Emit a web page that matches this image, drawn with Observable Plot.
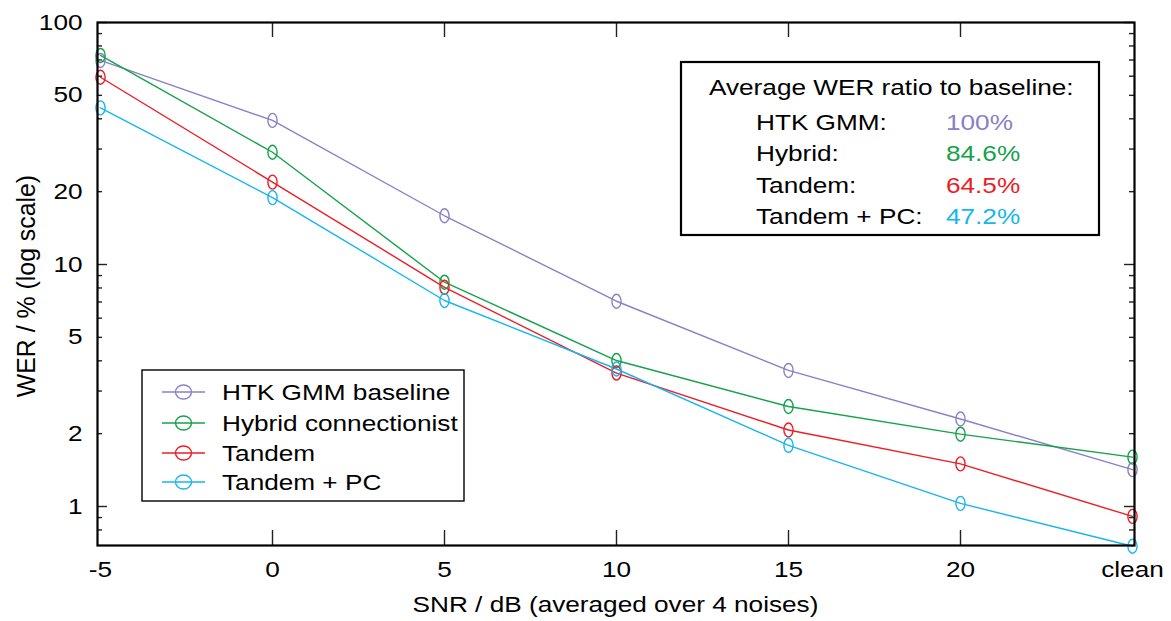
<!DOCTYPE html>
<html>
<head>
<meta charset="utf-8">
<script src="https://cdn.jsdelivr.net/npm/d3@7"></script>
<script src="https://cdn.jsdelivr.net/npm/@observablehq/plot@0.6"></script>
<style>
  html, body { margin: 0; padding: 0; background: white; overflow: hidden; }
</style>
</head>
<body>
<script>
// ---- data ----
const snrLabels = ["-5", "0", "5", "10", "15", "20", "clean"];
const seriesNames = ["HTK GMM baseline", "Hybrid connectionist", "Tandem", "Tandem + PC"];
const htkGmm   = [69.7, 39.4, 15.9, 7.05, 3.65, 2.30, 1.42];
const hybrid   = [73.1, 29.1, 8.45, 4.01, 2.59, 1.99, 1.60];
const tandem   = [59.4, 21.9, 8.05, 3.56, 2.07, 1.50, 0.91];
const tandemPC = [44.4, 18.9, 7.10, 3.70, 1.79, 1.03, 0.685];
const seriesColors = ["#8a80c6", "#14a24a", "#ee1c25", "#16b6ee"];
const yMajorTicks = [1, 2, 5, 10, 20, 50, 100];
const yDecadeTicks = [1, 10, 100];
const yMinorTicks = [0.8, 0.9, 2, 3, 4, 5, 6, 7, 8, 9, 20, 30, 40, 50, 60, 70, 80, 90];
const xTickVals = ["0", "5", "10", "15", "20"];
const ratioLabels = ["HTK GMM:", "Hybrid:", "Tandem:", "Tandem + PC:"];
const ratioValues = ["100%", "84.6%", "64.5%", "47.2%"];

const allSeries = [htkGmm, hybrid, tandem, tandemPC];
const table = [];
seriesNames.forEach((name, s) => {
  snrLabels.forEach((snr, i) => table.push({series: name, snr, wer: allSeries[s][i]}));
});

// ---- layout ----
const W = 1171, H = 621;
const mL = 97, mR = 37, mT = 22, mB = 76;
const innerW = W - mL - mR, innerH = H - mT - mB;
const FONT = "Liberation Sans, Arial, Helvetica, sans-serif";
const FS = 22;
const STRETCH = 1.19;

const ellipseSymbol = {
  draw(ctx) {
    const rx = 4.6, ry = 7, k = 0.5523;
    ctx.moveTo(rx, 0);
    ctx.bezierCurveTo(rx, ry * k, rx * k, ry, 0, ry);
    ctx.bezierCurveTo(-rx * k, ry, -rx, ry * k, -rx, 0);
    ctx.bezierCurveTo(-rx, -ry * k, -rx * k, -ry, 0, -ry);
    ctx.bezierCurveTo(rx * k, -ry, rx, -ry * k, rx, 0);
    ctx.closePath();
  }
};

const chart = Plot.plot({
  width: W, height: H,
  marginLeft: mL, marginRight: mR, marginTop: mT, marginBottom: mB,
  style: {fontFamily: FONT, fontSize: FS + "px", background: "white", color: "black", overflow: "visible"},
  x: {type: "point", domain: snrLabels, padding: 0, axis: null},
  y: {type: "log", domain: [0.69, 100], axis: null},
  color: {type: "ordinal", domain: seriesNames, range: seriesColors},
  marks: [
    // inward ticks
    Plot.tickX(xTickVals, {x: d => d, insetTop: innerH - 15, stroke: "#222", strokeWidth: 1.4}),
    Plot.tickX(xTickVals, {x: d => d, insetBottom: innerH - 15, stroke: "#222", strokeWidth: 1.4}),
    Plot.tickY(yMinorTicks, {y: d => d, insetRight: innerW - 5, stroke: "#222", strokeWidth: 1.4}),
    Plot.tickY(yMinorTicks, {y: d => d, insetLeft: innerW - 5, stroke: "#222", strokeWidth: 1.4}),
    Plot.tickY(yDecadeTicks, {y: d => d, insetRight: innerW - 10, stroke: "#222", strokeWidth: 1.4}),
    Plot.tickY(yDecadeTicks, {y: d => d, insetLeft: innerW - 10, stroke: "#222", strokeWidth: 1.4}),
    // tick labels
    Plot.axisX(snrLabels, {anchor: "bottom", tickSize: 0, tickPadding: 16, label: null, fontSize: FS, fill: "black"}),
    Plot.axisY(yMajorTicks, {anchor: "left", tickSize: 0, tickPadding: 15, label: null, tickFormat: d => String(d), fontSize: FS, fill: "black"}),
    // data
    Plot.line(table, {x: "snr", y: "wer", z: "series", stroke: "series", strokeWidth: 1.4}),
    Plot.dot(table, {x: "snr", y: "wer", stroke: "series", fill: "none", symbol: ellipseSymbol, strokeWidth: 1.4}),
    Plot.frame({stroke: "black", strokeWidth: 2.2})
  ]
});

document.body.appendChild(chart);
const svg = d3.select(chart);

// axis titles
svg.append("text")
  .attr("x", mL + innerW / 2).attr("y", 612)
  .attr("text-anchor", "middle")
  .attr("font-size", FS).attr("font-family", FONT).attr("fill", "black")
  .text("SNR / dB (averaged over 4 noises)");

svg.append("text")
  .attr("class", "nostretch")
  .attr("transform", "translate(35,286) rotate(-90) scale(1.13,1.19)")
  .attr("text-anchor", "middle")
  .attr("font-size", FS).attr("font-family", FONT).attr("fill", "black")
  .text("WER / % (log scale)");

// legend (lower left)
const lg = svg.append("g").attr("font-family", FONT).attr("font-size", FS).attr("text-anchor", "start");
lg.append("rect").attr("x", 142).attr("y", 370).attr("width", 322).attr("height", 131)
  .attr("fill", "white").attr("stroke", "black").attr("stroke-width", 1.4);
const rowY = [392, 423, 453, 482];
seriesNames.forEach((name, i) => {
  const cy = rowY[i];
  lg.append("line").attr("x1", 162).attr("x2", 205).attr("y1", cy).attr("y2", cy)
    .attr("stroke", seriesColors[i]).attr("stroke-width", 1.4);
  lg.append("ellipse").attr("cx", 183.5).attr("cy", cy).attr("rx", 8).attr("ry", 7)
    .attr("fill", "none").attr("stroke", seriesColors[i]).attr("stroke-width", 1.4);
  lg.append("text").attr("x", 222).attr("y", cy + 8).attr("fill", "black").attr("text-anchor", "start").text(name);
});

// annotation box (upper right)
const ab = svg.append("g").attr("font-family", FONT).attr("font-size", FS).attr("text-anchor", "start");
ab.append("rect").attr("x", 681).attr("y", 62).attr("width", 418).attr("height", 173)
  .attr("fill", "white").attr("stroke", "black").attr("stroke-width", 2.2);
ab.append("text").attr("x", 709).attr("y", 95).attr("fill", "black").attr("text-anchor", "start").text("Average WER ratio to baseline:");
const abY = [130, 161, 193, 224];
ratioLabels.forEach((lab, i) => {
  ab.append("text").attr("x", 756).attr("y", abY[i]).attr("fill", "black").attr("text-anchor", "start").text(lab);
  ab.append("text").attr("x", 946).attr("y", abY[i]).attr("fill", seriesColors[i]).attr("text-anchor", "start").text(ratioValues[i]);
});

// horizontal stretch of glyphs about each text's anchor point
chart.querySelectorAll("text").forEach(t => {
  if (t.classList.contains("nostretch")) return;
  const x = parseFloat(t.getAttribute("x")) || 0;
  const y = parseFloat(t.getAttribute("y")) || 0;
  const prev = t.getAttribute("transform") || "";
  t.setAttribute("transform", `${prev} translate(${x},${y}) scale(${STRETCH},1) translate(${-x},${-y})`.trim());
});
</script>
</body>
</html>
